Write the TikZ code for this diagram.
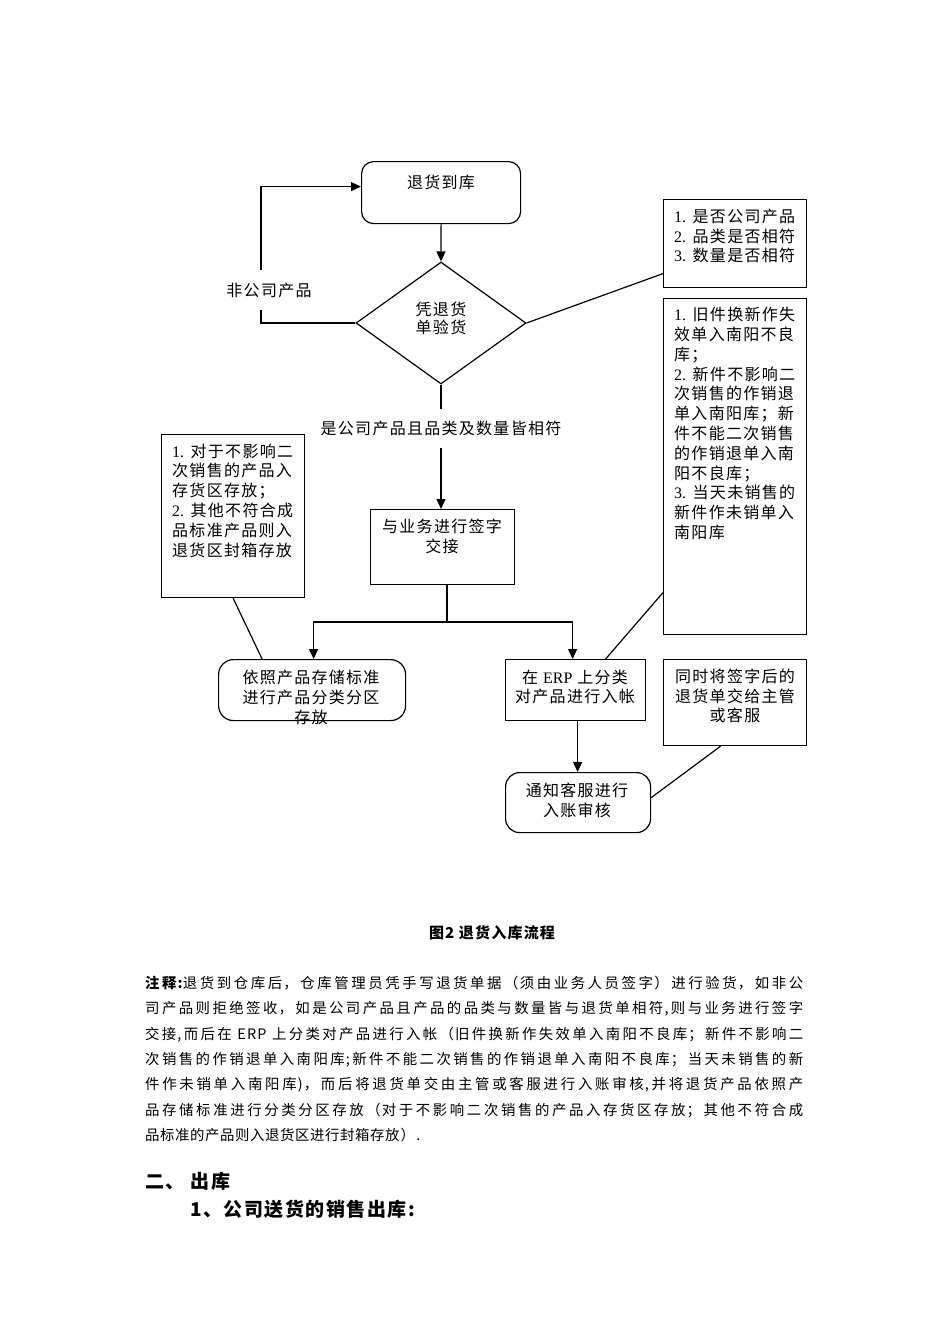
\documentclass[tikz,border=0pt]{standalone}
\usepackage{fontspec}
\setmainfont{Noto Sans CJK SC}[LetterSpace=8]
\newfontfamily\lat{Liberation Serif}
\usetikzlibrary{arrows.meta,shapes.geometric,calc}
\XeTeXlinebreaklocale "zh"
\XeTeXlinebreakskip=0pt plus 3pt
\newcommand{\paraskipset}{\XeTeXlinebreakskip=0.6pt plus 3pt\relax}
\tikzset{
  box/.style={draw, line width=1.2pt, anchor=north west, inner sep=0pt},
  rbox/.style={box, rounded corners=12pt},
  txt/.style={inner sep=0pt, align=center, font=\fontsize{16}{19.8}\selectfont},
  ltxt/.style={inner sep=0pt, align=left, anchor=west, font=\fontsize{16}{19.8}\selectfont},
  conn/.style={line width=1.2pt},
  arr/.style={conn, -{Triangle[length=10pt,width=9pt]}},
}
\begin{document}
\begin{tikzpicture}[x=1pt,y=-1pt]
\fill[white] (0,0) rectangle (950,1344);
\useasboundingbox (0,0) rectangle (950,1344);

% boxes
\node[rbox, minimum width=159pt, minimum height=62pt] (top) at (361,161) {};
\node[draw, line width=1.2pt, diamond, minimum width=170pt, minimum height=122pt, inner sep=0pt] (dia) at (441,323) {};
\node[box, minimum width=143pt, minimum height=88pt] (b1) at (663,199) {};
\node[box, minimum width=143pt, minimum height=336pt] (rb) at (663,298) {};
\node[box, minimum width=143pt, minimum height=163pt] (lb) at (161,434) {};
\node[box, minimum width=144pt, minimum height=75pt] (sign) at (370,509) {};
\node[box, rounded corners=15pt, minimum width=187pt, minimum height=61pt] (store) at (218,659) {};
\node[box, minimum width=140pt, minimum height=61pt] (erp) at (505,659) {};
\node[box, minimum width=143pt, minimum height=86pt] (ts) at (663,659) {};
\node[box, rounded corners=14pt, minimum width=145pt, minimum height=60pt] (notify) at (505,772) {};

% texts
\node[txt] (ttop) at (441,182) {退货到库};
\node[txt, font=\fontsize{16}{18}\selectfont] (tdia) at (441,318) {凭退货\\单验货};
\node[ltxt] (tb1) at (674,236) {{\lat 1.} 是否公司产品\\{\lat 2.} 品类是否相符\\{\lat 3.} 数量是否相符};
\node[txt, fill=white, inner xsep=3pt, inner ysep=12pt] (lbl) at (269,290) {非公司产品};
\node[txt, inner ysep=12pt] (yes) at (441,428.5) {是公司产品且品类及数量皆相符};
\node[txt] (tsign) at (442,536.5) {与业务进行签字\\交接};
\node[ltxt] (tlb) at (172,500.5) {{\lat 1.} 对于不影响二\\次销售的产品入\\存货区存放；\\{\lat 2.} 其他不符合成\\品标准产品则入\\退货区封箱存放};
\node[txt] (tstore) at (311,697.5) {依照产品存储标准\\进行产品分类分区\\存放};
\node[txt] (terp) at (575,687) {在 {\lat ERP} 上分类\\对产品进行入帐};
\node[ltxt] (trb) at (674,423.5) {{\lat 1.} 旧件换新作失\\效单入南阳不良\\库；\\{\lat 2.} 新件不影响二\\次销售的作销退\\单入南阳库；新\\件不能二次销售\\的作销退单入南\\阳不良库；\\{\lat 3.} 当天未销售的\\新件作未销单入\\南阳库};
\node[txt] (tts) at (735,696) {同时将签字后的\\退货单交给主管\\或客服};
\node[txt] (tnotify) at (577,800) {通知客服进行\\入账审核};

% connectors
\coordinate (lx) at (261,323);
\coordinate (j) at (447,622);
\draw[arr] (top.south) -- (dia.north);
\draw[conn] (dia.west) -| (lx |- lbl.south);
\draw[arr] (lx |- lbl.north) |- ([yshift=6pt]top.west);
\draw[conn] (dia.east) -- ([yshift=-30pt]b1.west);
\draw[conn] (dia.south) -- (yes.north);
\draw[arr] (yes.south) -- (yes.south |- sign.north);
\draw[conn] (sign.south -| j) -- (j);
\draw[arr] (j) -| ([xshift=1.5pt]store.north);
\draw[arr] (j) -| ([xshift=-3pt]erp.north);
\draw[conn] (lb.south) -- ([xshift=-50pt]store.north);
\draw[conn] ([yshift=-126pt]rb.west) -- ([xshift=30pt]erp.north);
\draw[arr] ([xshift=2pt]erp.south) -- ([xshift=2pt]erp.south |- notify.north);
\draw[conn] ([xshift=-14.5pt]ts.south) -- ([yshift=5pt]notify.east);

% caption and paragraph
\node[inner sep=0pt, font=\fontsize{15}{17}\selectfont\bfseries] (cap) at (492,933) {图2 退货入库流程};
\node[anchor=north west, inner sep=0pt, text width=658pt, align=justify, font=\fontsize{14.4}{25.3}\selectfont] (para) at (145,976) {\paraskipset\noindent{\bfseries 注释:}退货到仓库后，仓库管理员凭手写退货单据（须由业务人员签字）进行验货，如非公\linebreak
司产品则拒绝签收，如是公司产品且产品的品类与数量皆与退货单相符,则与业务进行签字\linebreak
交接,而后在 ERP 上分类对产品进行入帐（旧件换新作失效单入南阳不良库；新件不影响二\linebreak
次销售的作销退单入南阳库;新件不能二次销售的作销退单入南阳不良库；当天未销售的新\linebreak
件作未销单入南阳库)，而后将退货单交由主管或客服进行入账审核,并将退货产品依照产\linebreak
品存储标准进行分类分区存放（对于不影响二次销售的产品入存货区存放；其他不符合成\linebreak
品标准的产品则入退货区进行封箱存放）.};
\node[anchor=west, inner sep=0pt, font=\fontsize{19}{22}\selectfont\bfseries] (h1) at (145,1181) {二、 出库};
\node[anchor=west, inner sep=0pt, font=\fontsize{19}{22}\selectfont\bfseries] (h2) at (190,1209) {1、公司送货的销售出库:};
\end{tikzpicture}
\end{document}
